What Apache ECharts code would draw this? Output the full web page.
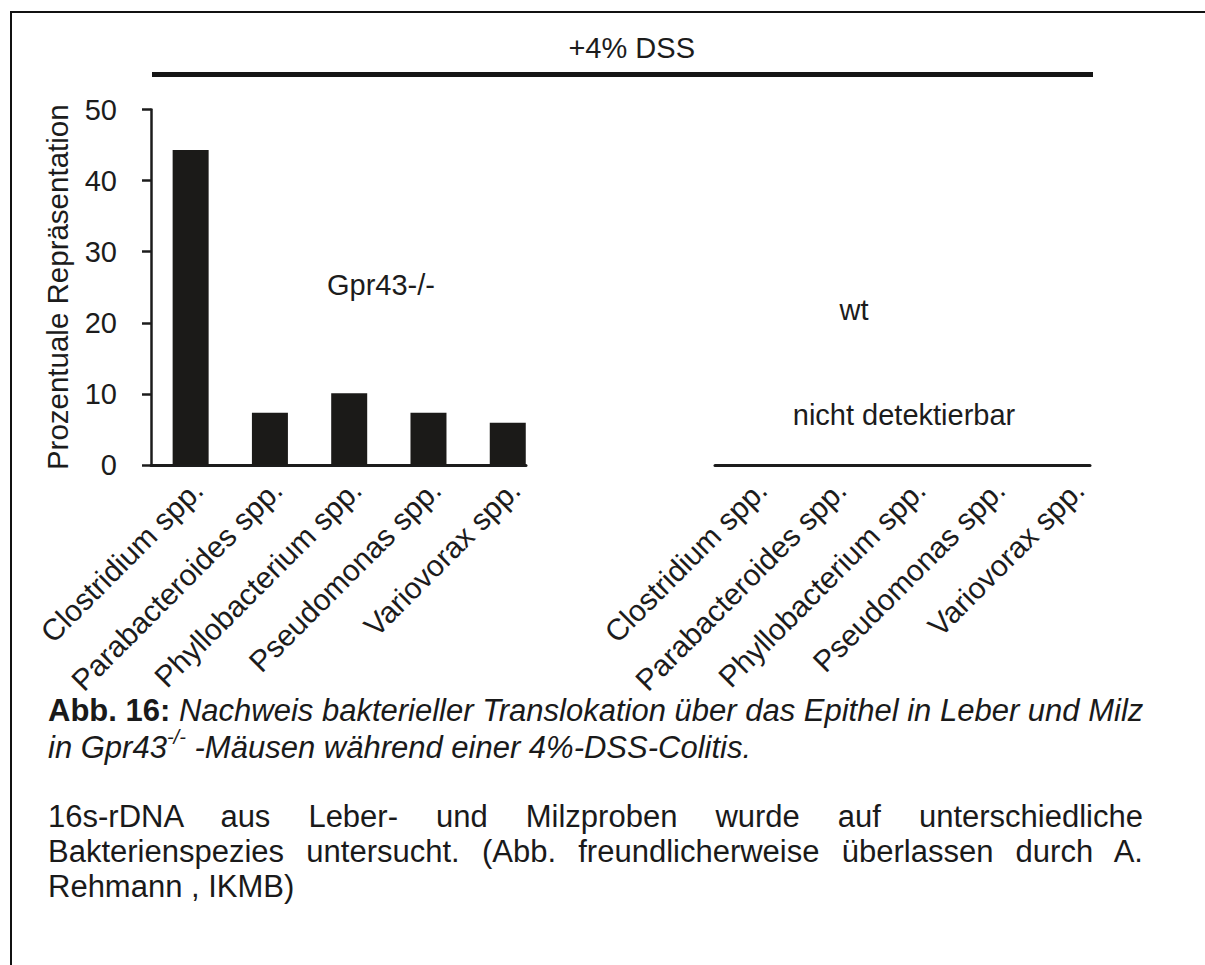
<!DOCTYPE html>
<html>
<head>
<meta charset="utf-8">
<script src="https://cdn.jsdelivr.net/npm/echarts@6/dist/echarts.min.js"></script>
<style>
  html, body { margin: 0; padding: 0; background: #ffffff; }
  body { width: 1205px; height: 965px; position: relative; overflow: hidden; }
  #chart { position: absolute; left: 0; top: 0; width: 1205px; height: 965px; }
  .frame { position: absolute; left: 10px; top: 11px; width: 1200px; height: 960px;
           border-left: 2.5px solid #111; border-top: 2.5px solid #111; }
  .cap { position: absolute; left: 48px; width: 1095px; font-family: 'Liberation Sans', Arial, sans-serif;
         font-size: 31px; line-height: 34px; color: #1a1a1a; white-space: nowrap; }
  .cap i { font-style: italic; }
  .cap sup { font-size: 0.65em; line-height: 0; position: relative; top: -0.15em; }
  .j { text-align: justify; text-align-last: justify; white-space: normal; }
</style>
</head>
<body>
<div class="frame"></div>
<div id="chart"></div>
<div class="cap" style="top:694px"><b>Abb. 16:</b> <i>Nachweis bakterieller Translokation über das Epithel in Leber und Milz</i></div>
<div class="cap" style="top:731px"><i>in Gpr43<sup>-/-</sup> -Mäusen während einer 4%-DSS-Colitis.</i></div>
<div class="cap j" style="top:800px">16s-rDNA aus Leber- und Milzproben wurde auf unterschiedliche</div>
<div class="cap j" style="top:835px">Bakterienspezies untersucht. (Abb. freundlicherweise überlassen durch A.</div>
<div class="cap" style="top:870px">Rehmann , IKMB)</div>
<script>
// ---- data ----
const categories = ['Clostridium spp.', 'Parabacteroides spp.', 'Phyllobacterium spp.', 'Pseudomonas spp.', 'Variovorax spp.'];
const gpr43Values = [44.3, 7.35, 10.1, 7.35, 5.95];
const wtValues = [0, 0, 0, 0, 0];
const yMin = 0, yMax = 50, yInterval = 10;
const yAxisTitle = 'Prozentuale Repräsentation';
const groupTitle = '+4% DSS';
const leftGroupLabel = 'Gpr43-/-';
const rightGroupLabel = 'wt';
const notDetected = 'nicht detektierbar';

// ---- chart ----
const FONT = "'Liberation Sans', Arial, sans-serif";
const INK = '#1c1c1c';
const BAR = '#1b1a18';
const catPos = categories.map((c, i) => i + 0.5);
const LABEL_SHIFT = 0.09;
const labelPos = catPos.map(p => p + LABEL_SHIFT);
const toPairs = vals => vals.map((v, i) => [catPos[i], v]);
const xMax = 4.73;

const chart = echarts.init(document.getElementById('chart'), null, { renderer: 'svg' });

function makeX(gridIndex) {
  return {
    gridIndex, type: 'value', min: 0, max: xMax,
    splitLine: { show: false },
    axisTick: { show: false },
    axisLine: { show: true, onZero: false, lineStyle: { color: INK, width: 3 } },
    axisLabel: {
      customValues: labelPos,
      formatter: v => categories[Math.round(v - 0.5 - LABEL_SHIFT)] || '',
      rotate: 45, margin: 20, fontSize: 30, color: INK, fontFamily: FONT
    }
  };
}

chart.setOption({
  animation: false,
  backgroundColor: 'transparent',
  grid: [
    { left: 151, top: 109.5, width: 375, height: 355.5, containLabel: false, outerBoundsMode: 'none' },
    { left: 715, top: 109.5, width: 375, height: 355.5, containLabel: false, outerBoundsMode: 'none' }
  ],
  xAxis: [makeX(0), makeX(1)],
  yAxis: [
    {
      gridIndex: 0, type: 'value', min: yMin, max: yMax, interval: yInterval,
      splitLine: { show: false },
      axisLine: { show: true, lineStyle: { color: INK, width: 2.5 } },
      axisTick: { show: true, length: 9, lineStyle: { color: INK, width: 2.5 } },
      axisLabel: { margin: 34, fontSize: 29, color: INK, fontFamily: FONT, padding: [6, 0, 0, 0] },
      name: yAxisTitle, nameLocation: 'middle', nameRotate: 90, nameGap: 79,
      nameTextStyle: { fontSize: 29.5, color: INK, fontFamily: FONT }
    },
    {
      gridIndex: 1, type: 'value', min: yMin, max: yMax, interval: yInterval,
      show: false
    }
  ],
  series: [
    { type: 'bar', xAxisIndex: 0, yAxisIndex: 0, data: toPairs(gpr43Values), barWidth: 36,
      itemStyle: { color: BAR } },
    { type: 'bar', xAxisIndex: 1, yAxisIndex: 1, data: toPairs(wtValues), barWidth: 36,
      itemStyle: { color: BAR } }
  ],
  graphic: [
    { type: 'text', x: 631.7, y: 47.5,
      style: { text: groupTitle, fontSize: 29, fill: INK, fontFamily: FONT, align: 'center', verticalAlign: 'middle' } },
    { type: 'line', shape: { x1: 152, y1: 74.5, x2: 1093, y2: 74.5 },
      style: { stroke: '#151515', lineWidth: 5 } },
    { type: 'text', x: 381, y: 285,
      style: { text: leftGroupLabel, fontSize: 29, fill: INK, fontFamily: FONT, align: 'center', verticalAlign: 'middle' } },
    { type: 'text', x: 854, y: 310,
      style: { text: rightGroupLabel, fontSize: 29, fill: INK, fontFamily: FONT, align: 'center', verticalAlign: 'middle' } },
    { type: 'text', x: 904, y: 415,
      style: { text: notDetected, fontSize: 29, fill: INK, fontFamily: FONT, align: 'center', verticalAlign: 'middle' } }
  ]
});
</script>
</body>
</html>
